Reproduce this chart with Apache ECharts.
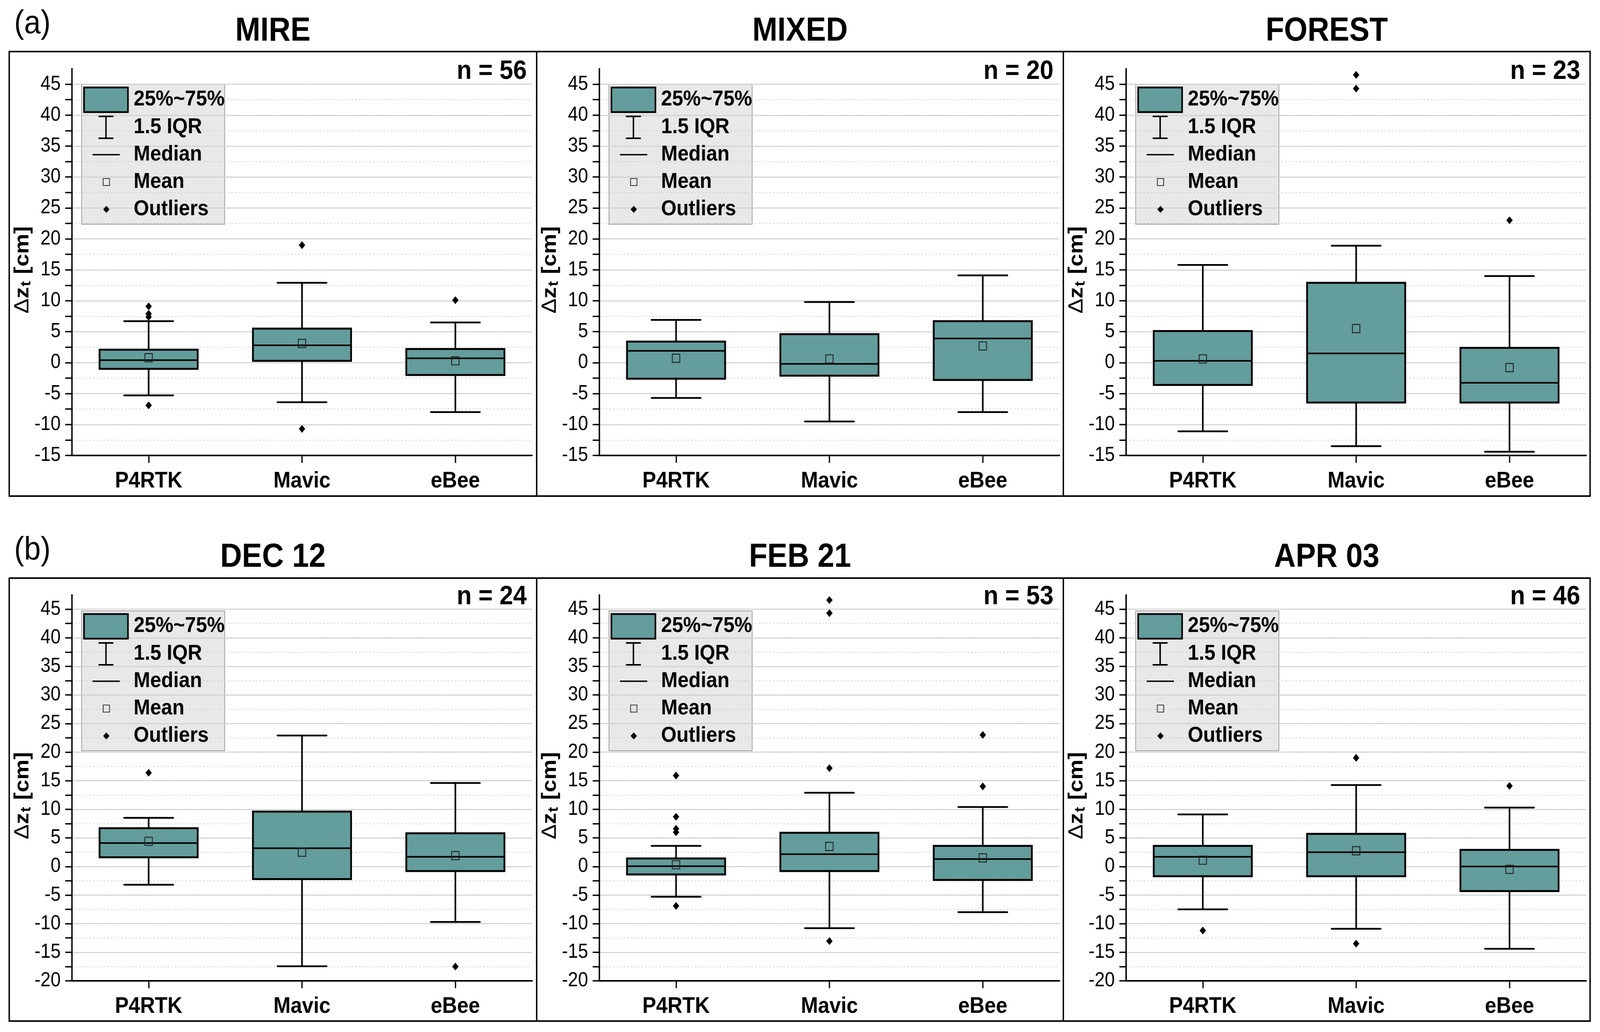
<!DOCTYPE html>
<html>
<head>
<meta charset="utf-8">
<script src="https://cdn.jsdelivr.net/npm/echarts@6/dist/echarts.min.js"></script>
<style>
html,body{margin:0;padding:0;background:#fff;overflow:hidden;}
#chart{width:4514px;height:2642px;transform-origin:0 0;}
</style>
</head>
<body>
<div id="chart"></div>
<script>
// ---------------- data ----------------
const categories = ['P4RTK', 'Mavic', 'eBee'];
const panelTitles = ['MIRE', 'MIXED', 'FOREST', 'DEC 12', 'FEB 21', 'APR 03'];
const sampleSizes = [56, 20, 23, 24, 53, 46];
const rowLetters = ['(a)', '(b)'];
const yMinByRow = [-15, -20];
const yMax = 47.5;
const legendLabels = ['25%~75%', '1.5 IQR', 'Median', 'Mean', 'Outliers'];

// boxes: [lower whisker, Q1, median, Q3, upper whisker] per category
const mireBoxes = [[-5.3, -1.0, 0.4, 2.1, 6.7], [-6.4, 0.3, 2.8, 5.5, 12.9], [-8.0, -2.0, 0.7, 2.2, 6.5]];
const mireMeans = [0.8, 3.1, 0.3];
const mireOutliers = [[0, 9.1], [0, 7.9], [0, 7.4], [0, -6.9], [1, 19.0], [1, -10.7], [2, 10.1]];

const mixedBoxes = [[-5.7, -2.6, 1.9, 3.4, 6.9], [-9.5, -2.1, -0.2, 4.6, 9.8], [-8.0, -2.8, 3.9, 6.7, 14.1]];
const mixedMeans = [0.7, 0.6, 2.7];
const mixedOutliers = [];

const forestBoxes = [[-11.1, -3.6, 0.3, 5.1, 15.8], [-13.5, -6.45, 1.5, 12.9, 18.9], [-14.4, -6.45, -3.25, 2.4, 14.0]];
const forestMeans = [0.6, 5.5, -0.8];
const forestOutliers = [[1, 46.5], [1, 44.3], [2, 23.0]];

const dec12Boxes = [[-3.2, 1.6, 4.1, 6.7, 8.5], [-17.45, -2.2, 3.2, 9.6, 22.9], [-9.7, -0.8, 1.7, 5.8, 14.6]];
const dec12Means = [4.4, 2.5, 1.9];
const dec12Outliers = [[0, 16.4], [2, -17.5]];

const feb21Boxes = [[-5.3, -1.4, 0.05, 1.4, 3.6], [-10.8, -0.8, 2.15, 5.9, 12.9], [-8.0, -2.35, 1.3, 3.6, 10.4]];
const feb21Means = [0.3, 3.5, 1.5];
const feb21Outliers = [[0, 15.9], [0, 8.7], [0, 6.6], [0, 6.0], [0, -6.9], [1, 46.6], [1, 44.3], [1, 17.2], [1, -13.05], [2, 23.0], [2, 14.0]];

const apr03Boxes = [[-7.5, -1.7, 1.7, 3.6, 9.1], [-10.9, -1.7, 2.5, 5.7, 14.25], [-14.4, -4.3, 0.0, 2.9, 10.3]];
const apr03Means = [1.1, 2.75, -0.5];
const apr03Outliers = [[0, -11.2], [1, 19.0], [1, -13.5], [2, 14.1]];

const panelBoxes = [mireBoxes, mixedBoxes, forestBoxes, dec12Boxes, feb21Boxes, apr03Boxes];
const panelMeans = [mireMeans, mixedMeans, forestMeans, dec12Means, feb21Means, apr03Means];
const panelOutliers = [mireOutliers, mixedOutliers, forestOutliers, dec12Outliers, feb21Outliers, apr03Outliers];

// ---------------- layout / style ----------------
const FONT = '"Liberation Sans", Arial, Helvetica, sans-serif';
const TEAL = '#639d9c';
const panelLefts = [26, 1514, 3000];
const panelRights = [1514, 3000, 4486];
const frameTops = [132, 1480];
const frameBottoms = [1270, 2614];
const gridTops = [176, 1523];
const gridHeights = [990, 988];
const gridOffsetX = 177;
const gridWidth = 1298;
const titleY = [81, 1428];
const nLabelY = [183, 1528];
const letterY = [62, 1410];

const grids = [], xAxes = [], yAxes = [], series = [], graphics = [];

function renderBox(params, api) {
  const xi = api.value(0);
  const lo = api.coord([xi, api.value(1)]);
  const q1 = api.coord([xi, api.value(2)]);
  const md = api.coord([xi, api.value(3)]);
  const q3 = api.coord([xi, api.value(4)]);
  const hi = api.coord([xi, api.value(5)]);
  const band = api.size([1, 0])[0];
  const bw = band * 0.64, cw = band * 0.32;
  const cx = lo[0];
  const ls = { stroke: '#000', lineWidth: 4.5, lineCap: 'round' };
  return {
    type: 'group',
    children: [
      { type: 'line', shape: { x1: cx, y1: hi[1], x2: cx, y2: q3[1] }, style: ls },
      { type: 'line', shape: { x1: cx, y1: q1[1], x2: cx, y2: lo[1] }, style: ls },
      { type: 'line', shape: { x1: cx - cw / 2, y1: hi[1], x2: cx + cw / 2, y2: hi[1] }, style: ls },
      { type: 'line', shape: { x1: cx - cw / 2, y1: lo[1], x2: cx + cw / 2, y2: lo[1] }, style: ls },
      { type: 'rect', shape: { x: cx - bw / 2, y: q3[1], width: bw, height: q1[1] - q3[1] },
        style: { fill: TEAL, stroke: '#000', lineWidth: 5, lineJoin: 'miter' } },
      { type: 'line', shape: { x1: cx - bw / 2, y1: md[1], x2: cx + bw / 2, y2: md[1] },
        style: { stroke: '#000', lineWidth: 4 } }
    ]
  };
}

function legendElements(px, py) {
  const els = [];
  els.push({ type: 'rect', z: -1, shape: { x: px + 204, y: py + 84, width: 404, height: 358 },
    style: { fill: '#e8e8e8', stroke: '#9a9a9a', lineWidth: 2 } });
  els.push({ type: 'rect', z: 10, shape: { x: px + 211, y: py + 92, width: 124, height: 63 },
    style: { fill: TEAL, stroke: '#000', lineWidth: 4.5 } });
  const ls = { stroke: '#000', lineWidth: 4, lineCap: 'round' };
  const cx = px + 273;
  els.push({ type: 'line', z: 10, shape: { x1: cx, y1: py + 166, x2: cx, y2: py + 222 }, style: ls });
  els.push({ type: 'line', z: 10, shape: { x1: cx - 19.5, y1: py + 166, x2: cx + 19.5, y2: py + 166 }, style: ls });
  els.push({ type: 'line', z: 10, shape: { x1: cx - 19.5, y1: py + 222, x2: cx + 19.5, y2: py + 222 }, style: ls });
  els.push({ type: 'line', z: 10, shape: { x1: px + 235, y1: py + 264, x2: px + 312, y2: py + 264 },
    style: { stroke: '#000', lineWidth: 3.5 } });
  els.push({ type: 'rect', z: 10, shape: { x: px + 265, y: py + 325, width: 18, height: 18 },
    style: { fill: 'none', stroke: '#333', lineWidth: 2.2 } });
  els.push({ type: 'polygon', z: 10, shape: { points: [[px + 274, py + 395], [px + 283, py + 404], [px + 274, py + 413], [px + 265, py + 404]] },
    style: { fill: '#000' } });
  const rowsY = [123, 194, 264, 334, 404];
  legendLabels.forEach((t, i) => {
    els.push({ type: 'text', z: 10, x: px + 351, y: py + rowsY[i],
      style: { text: t, fill: '#000', fontSize: 56, fontWeight: 'bold', fontFamily: FONT, align: 'left', verticalAlign: 'middle' } });
  });
  return els;
}

for (let p = 0; p < 6; p++) {
  const row = Math.floor(p / 3), col = p % 3;
  const pl = panelLefts[col], pr = panelRights[col];
  const ymin = yMinByRow[row];
  grids.push({ left: pl + gridOffsetX, top: gridTops[row], width: gridWidth, height: gridHeights[row],
    containLabel: false, outerBoundsMode: 'none' });
  xAxes.push({
    type: 'category', gridIndex: p, data: categories, boundaryGap: true, position: 'bottom',
    axisLine: { show: true, onZero: false, lineStyle: { color: '#000', width: 4 } },
    axisTick: { show: true, alignWithLabel: true, length: 19, lineStyle: { color: '#000', width: 3.5 } },
    axisLabel: { color: '#000', fontSize: 58, fontWeight: 'bold', fontFamily: FONT, margin: 37 },
    splitLine: { show: false }
  });
  // main y axis: ticks every 2.5, labels at multiples of 5, dotted minor grid
  yAxes.push({
    type: 'value', gridIndex: p, min: ymin, max: yMax, interval: 2.5, position: 'left',
    axisLine: { show: true, onZero: false, lineStyle: { color: '#000', width: 4 } },
    axisTick: { show: true, length: 19, lineStyle: { color: '#000', width: 3.5 } },
    axisLabel: { color: '#000', fontSize: 51, fontFamily: FONT, margin: 32,
      formatter: v => (Math.abs(v % 5) < 1e-9 ? String(v) : ''), showMaxLabel: false },
    splitLine: { show: true, showMaxLine: false, lineStyle: { color: '#c6c6c6', width: 2, type: [3, 7] } },
    name: '{d|Δ}{z|z}{s|t}{z| [cm]}', nameLocation: 'middle', nameGap: 108, nameRotate: 90, nameMoveOverlap: false,
    nameTextStyle: {
      padding: [0, 40, 0, 0],
      rich: {
        d: { fontSize: 58, fontFamily: FONT, color: '#000', lineHeight: 62 },
        z: { fontSize: 58, fontWeight: 'bold', fontFamily: FONT, color: '#000', lineHeight: 62 },
        s: { fontSize: 40, fontWeight: 'bold', fontFamily: FONT, color: '#000', lineHeight: 40, verticalAlign: 'bottom', padding: [30, 2, 0, 2] }
      }
    }
  });
  // secondary y axis: solid major grid lines every 5
  yAxes.push({
    type: 'value', gridIndex: p, min: ymin, max: yMax, interval: 5, position: 'left',
    axisLine: { show: false }, axisTick: { show: false }, axisLabel: { show: false },
    splitLine: { show: true, showMaxLine: false, lineStyle: { color: '#d0d0d0', width: 2.5 } }
  });

  series.push({
    type: 'custom', xAxisIndex: p, yAxisIndex: 2 * p, z: 3, silent: true,
    data: panelBoxes[p].map((b, i) => [i].concat(b)),
    encode: { x: 0, y: [1, 2, 3, 4, 5] },
    renderItem: renderBox
  });
  series.push({
    type: 'scatter', xAxisIndex: p, yAxisIndex: 2 * p, z: 5, silent: true,
    symbol: 'rect', symbolSize: 21,
    itemStyle: { color: 'rgba(0,0,0,0)', borderColor: '#222', borderWidth: 2.4, opacity: 1 },
    data: panelMeans[p].map((m, i) => [i, m])
  });
  series.push({
    type: 'scatter', xAxisIndex: p, yAxisIndex: 2 * p, z: 6, silent: true,
    symbol: 'diamond', symbolSize: [18, 20],
    itemStyle: { color: '#000', opacity: 1 },
    data: panelOutliers[p]
  });

  graphics.push({ type: 'rect', z: 20, shape: { x: pl, y: frameTops[row], width: pr - pl, height: frameBottoms[row] - frameTops[row] },
    style: { fill: 'none', stroke: '#000', lineWidth: 4 } });
  graphics.push({ type: 'text', z: 20, x: (pl + pr) / 2, y: titleY[row],
    style: { text: panelTitles[p], fill: '#000', fontSize: 85, fontWeight: 'bold', fontFamily: FONT, align: 'center', verticalAlign: 'middle' } });
  graphics.push({ type: 'text', z: 20, x: pr - 28, y: nLabelY[row],
    style: { text: 'n = ' + sampleSizes[p], fill: '#000', fontSize: 69, fontWeight: 'bold', fontFamily: FONT, align: 'right', verticalAlign: 'middle' } });
  legendElements(pl, frameTops[row]).forEach(e => graphics.push(e));
}
rowLetters.forEach((t, r) => {
  graphics.push({ type: 'text', z: 20, x: 40, y: letterY[r],
    style: { text: t, fill: '#000', fontSize: 84, fontFamily: FONT, align: 'left', verticalAlign: 'middle' } });
});

// fit the 4514x2642 design onto the whole viewport
const el = document.getElementById('chart');
const vw = window.innerWidth || 4514, vh = window.innerHeight || 2642;
const sx = vw / 4514, sy = vh / 2642;
if (Math.abs(sx - 1) > 0.001 || Math.abs(sy - 1) > 0.001) el.style.transform = 'scale(' + sx + ',' + sy + ')';

const chart = echarts.init(el, null, { renderer: 'canvas', width: 4514, height: 2642 });
chart.setOption({
  backgroundColor: '#fff',
  animation: false,
  grid: grids,
  xAxis: xAxes,
  yAxis: yAxes,
  series: series,
  graphic: { elements: graphics }
});
</script>
</body>
</html>
